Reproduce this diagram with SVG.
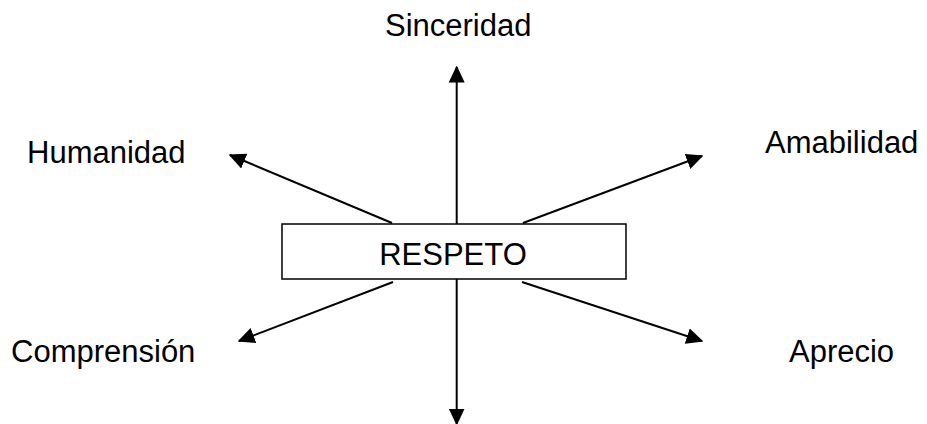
<svg xmlns="http://www.w3.org/2000/svg" width="927" height="424" viewBox="0 0 927 424">
<defs>
<style>
.lbl{font-family:"Liberation Sans",Arial,sans-serif;font-size:31px;fill:#000}
.edge{stroke:#000;stroke-width:2;fill:none;marker-end:url(#ah)}
.box{fill:#fff;stroke:#000;stroke-width:1.5}
</style>
<marker id="ah" markerUnits="userSpaceOnUse" markerWidth="17" markerHeight="17" refX="15.5" refY="8" orient="auto" viewBox="0 0 17 16">
<path d="M0,0 L17,8 L0,16 z" fill="#000"/>
</marker>
</defs>
<rect width="927" height="424" fill="#fff"/>
<g id="connectors">
<line class="edge" x1="456.7" y1="224" x2="456.7" y2="67"/>
<line class="edge" x1="456.7" y1="279" x2="456.7" y2="424"/>
<line class="edge" x1="392" y1="223" x2="230" y2="155"/>
<line class="edge" x1="523" y1="223" x2="702" y2="156"/>
<line class="edge" x1="393" y1="282" x2="239" y2="341"/>
<line class="edge" x1="522" y1="282" x2="702" y2="341"/>
</g>
<g id="respeto">
<rect class="box" x="282" y="224" width="344" height="55"/>
<text class="lbl" x="453" y="265" text-anchor="middle">RESPETO</text>
</g>
<g id="sinceridad"><text class="lbl" x="385" y="36">Sinceridad</text></g>
<g id="humanidad"><text class="lbl" x="27" y="163">Humanidad</text></g>
<g id="amabilidad"><text class="lbl" x="765" y="153">Amabilidad</text></g>
<g id="comprension"><text class="lbl" x="11" y="362">Comprensión</text></g>
<g id="aprecio"><text class="lbl" x="789" y="362">Aprecio</text></g>
</svg>
